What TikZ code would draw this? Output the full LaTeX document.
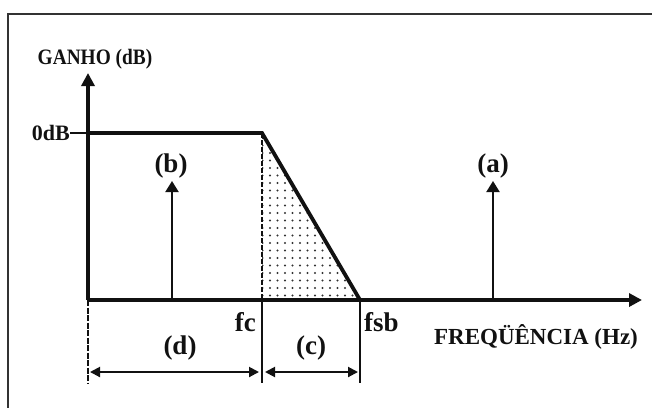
\documentclass[tikz,border=0pt]{standalone}
\usepackage{fontspec}
\setmainfont{Liberation Serif}
\newfontfamily\narrowserif{Liberation Serif}[FakeStretch=0.88]
\usepackage{xcolor}
\definecolor{cInk}{HTML}{111111}
\definecolor{cFrame}{HTML}{333333}
\definecolor{cDot}{HTML}{333333}
\usetikzlibrary{positioning,arrows.meta,patterns.meta}
\tikzset{
  node-label/.style={inner sep=0pt,font=\fontsize{20}{24}\selectfont\bfseries,text=cInk},
  node-tag/.style={node-label,font=\fontsize{27}{30}\selectfont\bfseries},
  line-frame/.style={line width=1.6pt,draw=cFrame},
  line-curve/.style={line width=3.8pt,draw=cInk,line join=miter},
  line-ext/.style={line width=1.2pt,draw=cInk},
  arrow-axis/.style={-{Triangle[length=13pt,width=13pt]},line width=3.6pt,draw=cInk},
  arrow-signal/.style={-{Triangle[length=11pt,width=13pt]},line width=2pt,draw=cInk},
  arrow-dim/.style={{Triangle[length=10pt,width=10pt]}-{Triangle[length=10pt,width=10pt]},line width=2pt,draw=cInk},
}
\begin{document}
\begin{tikzpicture}[x=1pt,y=-1pt]
  \useasboundingbox (0,0) rectangle (652,408);
  % moldura
  \draw[line-frame] (652,14) -- (8,14) -- (8,408);
  % pontos de referencia
  \coordinate (origem) at (88,300);
  \coordinate (ytopo) at (88,73);
  \coordinate (xfim) at (642,300);
  \coordinate (passa) at (88,133);
  \coordinate (fctopo) at (262,133);
  \coordinate (fcbase) at (262,300);
  \coordinate (fsbbase) at (360,300);
  % regiao de transicao pontilhada
  \fill[pattern={Dots[distance=7.5pt,radius=1.2pt]},pattern color=cDot]
    (fctopo) -- (fsbbase) -- (fcbase) -- cycle;
  \draw[line-ext,dash pattern=on 5pt off 2pt,line width=2pt] (fctopo) -- (fcbase);
  % eixos
  \draw[arrow-axis] (origem) -- (ytopo);
  \draw[arrow-axis] (origem) -- (xfim);
  \draw[line-curve] (passa) -- (fctopo) -- (fsbbase);
  \draw[line-ext] (70,133) -- (passa);
  % sinais
  \coordinate (bbase) at (172,300);
  \coordinate (btopo) at (172,181);
  \coordinate (abase) at (493,300);
  \coordinate (atopo) at (493,181);
  \draw[arrow-signal] (bbase) -- (btopo);
  \draw[arrow-signal] (abase) -- (atopo);
  % linhas de cota
  \coordinate (d0) at (88,383);
  \coordinate (c0) at (262,383);
  \coordinate (s0) at (360,383);
  \draw[line-ext,dash pattern=on 6pt off 1.5pt] (origem) -- (d0);
  \draw[line-ext] (fcbase) -- (c0);
  \draw[line-ext] (fsbbase) -- (s0);
  \coordinate (dA) at (90,372);
  \coordinate (dB) at (259,372);
  \coordinate (cA) at (265,372);
  \coordinate (cB) at (358,372);
  \draw[arrow-dim] (dA) -- (dB);
  \draw[arrow-dim] (cA) -- (cB);
  % textos
  \node[node-label,font=\narrowserif\fontsize{22}{26}\selectfont\bfseries] (ganho) at (95,59) {GANHO (dB)};
  \node[node-label,font=\fontsize{22}{26}\selectfont\bfseries,anchor=east] (zerodb) at (70,133) {0dB};
  \node[node-tag] (tagb) at (171,166) {(b)};
  \node[node-tag] (taga) at (493,166) {(a)};
  \node[node-tag,anchor=base east] (fc) at (256,331) {fc};
  \node[node-tag,anchor=base west] (fsb) at (364,331) {fsb};
  \node[node-tag] (tagd) at (180,348) {(d)};
  \node[node-tag] (tagc) at (311,348) {(c)};
  \node[node-label,font=\fontsize{23}{27}\selectfont\bfseries] (freq) at (536,337) {FREQÜÊNCIA (Hz)};
\end{tikzpicture}
\end{document}
